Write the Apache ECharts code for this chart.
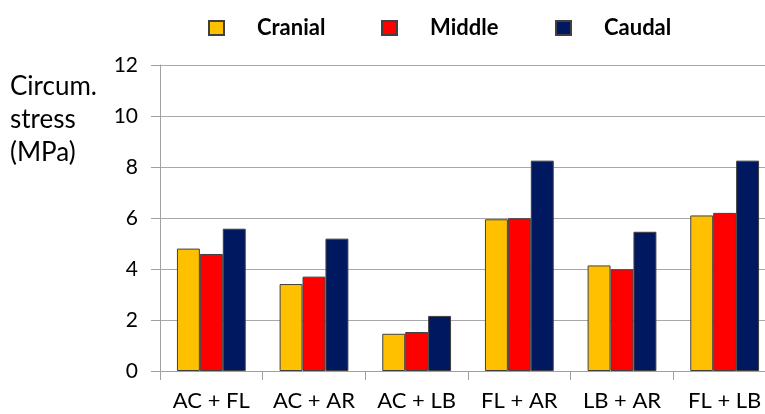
<!DOCTYPE html>
<html>
<head>
<meta charset="utf-8">
<script src="https://cdn.jsdelivr.net/npm/echarts@6/dist/echarts.min.js"></script>
<style>
html,body{margin:0;padding:0;background:#fff;}
#chart{width:765px;height:414px;}
</style>
</head>
<body>
<div id="chart"></div>
<script>
var categories = ['AC + FL', 'AC + AR', 'AC + LB', 'FL + AR', 'LB + AR', 'FL + LB'];
var cranial = [4.80, 3.41, 1.46, 5.95, 4.14, 6.10];
var middle  = [4.59, 3.70, 1.53, 5.99, 3.99, 6.20];
var caudal  = [5.58, 5.19, 2.16, 8.25, 5.46, 8.25];
var seriesNames = ['Cranial', 'Middle', 'Caudal'];
var yTicks = { min: 0, max: 12, interval: 2 };

var FONT = 'Lato';
var colors = ['#FFC000', '#FF0000', '#001860'];
var legendLeft = [208, 381, 555];

var chart = echarts.init(document.getElementById('chart'));
var legends = seriesNames.map(function (n, i) {
  return {
    data: [n], left: legendLeft[i], top: 17, padding: 0, itemWidth: 15, itemHeight: 14,
    icon: 'rect', selectedMode: false,
    textStyle: { fontFamily: FONT, fontWeight: 'bold', fontSize: 22, color: '#000', padding: [0, 0, 0, 28] }
  };
});
var dataArr = [cranial, middle, caudal];
chart.setOption({
  animation: false,
  color: colors,
  legend: legends,
  title: {
    text: 'Circum.\nstress\n(MPa)', left: 10, top: 70, padding: 0,
    textStyle: { fontFamily: FONT, fontWeight: 'normal', fontSize: 26, lineHeight: 33, color: '#000' }
  },
  grid: { left: 160, width: 616, top: 65, bottom: 43, outerBoundsMode: 'none', containLabel: false },
  xAxis: {
    type: 'category', data: categories,
    axisLine: { lineStyle: { color: '#a0a0a0', width: 1 } },
    axisTick: { show: true, interval: 0, length: 9, lineStyle: { color: '#a0a0a0' } },
    axisLabel: { interval: 0, fontFamily: FONT, fontSize: 22, color: '#000', margin: 19 }
  },
  yAxis: {
    type: 'value', min: yTicks.min, max: yTicks.max, interval: yTicks.interval,
    axisLine: { show: true, lineStyle: { color: '#a0a0a0', width: 1 } },
    axisTick: { show: true, length: 9, lineStyle: { color: '#a0a0a0' } },
    axisLabel: { fontFamily: FONT, fontSize: 21, color: '#000', margin: 22 },
    splitLine: { show: true, lineStyle: { color: '#a8a8a8', width: 1 } }
  },
  series: seriesNames.map(function (n, i) {
    return {
      name: n, type: 'bar', data: dataArr[i],
      barGap: '0%', barCategoryGap: '33%',
      itemStyle: { color: colors[i], borderColor: '#404040', borderWidth: 1 }
    };
  })
});
</script>
</body>
</html>
